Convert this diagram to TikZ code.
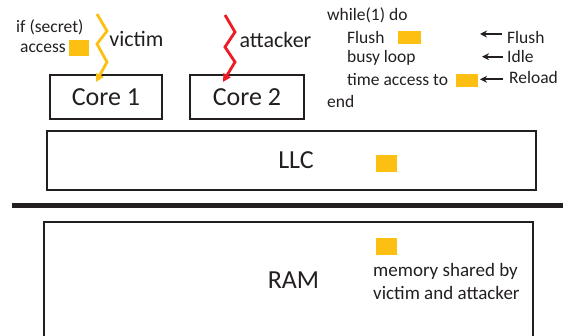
\documentclass[tikz,border=0pt]{standalone}
\usepackage{fontspec}
\setmainfont{Carlito}
\usetikzlibrary{arrows.meta,calc}
\definecolor{cacheyellow}{RGB}{252,191,18}
\definecolor{threadred}{RGB}{237,28,36}
\definecolor{ink}{RGB}{35,31,32}

\begin{document}
\begin{tikzpicture}[x=1pt,y=-1pt,
  unit/.style={draw=ink,line width=2pt,inner sep=0pt},
  blk/.style={fill=cacheyellow,inner sep=0pt},
  big/.style={font=\fontsize{26}{30}\selectfont,text=ink,inner sep=0pt},
  mid/.style={font=\fontsize{22}{25}\selectfont,text=ink,inner sep=0pt},
  small/.style={font=\fontsize{17.5}{21}\selectfont,text=ink,inner sep=0pt},
  thread/.style={line width=2.8pt,line join=miter,-{Triangle[length=8pt,width=8pt]}},
  note/.style={draw=ink,line width=2pt,-{Stealth[length=7pt,width=7pt]}}
]
\useasboundingbox (0,0) rectangle (563,336);

% cores
\node[unit,minimum width=112pt,minimum height=44pt,big] (core1) at (106,97) {Core 1};
\node[unit,minimum width=114pt,minimum height=44pt,big] (core2) at (247,97) {Core 2};

% last level cache
\node[unit,minimum width=489pt,minimum height=59pt] (llc) at (291,160.5) {};
\node[big] (llclbl) at (296,160) {LLC};
\node[blk,minimum width=21pt,minimum height=17pt] (llcline) at (386.5,163.5) {};

% separator between the chip and main memory
\draw[ink,line width=5pt] (12,206) coordinate (sepl) -- (563,206) coordinate (sepr);

% main memory (continues below)
\draw[ink,line width=2pt] (44,340) -- (44,222) -- (533,222) -- (533,340);
\node[big] (ramlbl) at (293.5,280) {RAM};
\node[blk,minimum width=21pt,minimum height=17pt] (ramline) at (386.5,246.5) {};
\node[anchor=west,align=left,inner sep=0pt,text=ink,font=\fontsize{19}{23}\selectfont] (shared) at (373,281.5)
  {memory shared by\\victim and attacker};

% victim thread
\node[small,anchor=west] (ifsec) at (16,27) {if (secret)};
\node[small,anchor=west] (acc) at (20,48.5) {access};
\node[blk,minimum width=20pt,minimum height=16pt] (accline) at (79,48) {};
\node[mid] (victim) at (136.5,39) {victim};
\coordinate (vtop) at (97,14);
\draw[thread,cacheyellow] (vtop) -- (107,31) -- (97,44) -- (107,62) -- ($(core1.north)+(-10,8)$);

% attacker thread
\node[mid] (attacker) at (275.5,40) {attacker};
\coordinate (atop) at (225,15);
\draw[thread,threadred] (atop) -- (235,32) -- (225,47) -- (235,62) -- ($(core2.north)+(-24,8)$);

% attacker loop
\node[small,anchor=west] (wh) at (327,15.5) {while(1) do};
\node[small,anchor=west] (fl) at (347,37) {Flush};
\node[blk,minimum width=23pt,minimum height=13pt] (flline) at (409.5,37.5) {};
\node[small,anchor=west] (busy) at (347,58) {busy loop};
\node[small,anchor=west] (tacc) at (347,80) {time access to};
\node[blk,minimum width=22pt,minimum height=13pt] (taccline) at (467,80.5) {};
\node[small,anchor=west] (en) at (327,101.5) {end};

% phase labels
\node[small,anchor=west] (pflush) at (507,37) {Flush};
\node[small,anchor=west] (pidle) at (507,56) {Idle};
\node[small,anchor=west] (preload) at (509,77.5) {Reload};
\coordinate (aflush) at (480,34);
\coordinate (aidle) at (482,56.7);
\coordinate (areload) at (480,79.3);
\draw[note] (pflush.west |- aflush) ++(-5,0) -- (aflush);
\draw[note] (pidle.west |- aidle) ++(-4,0) -- (aidle);
\draw[note] (preload.west |- areload) ++(-6,0) -- (areload);
\end{tikzpicture}
\end{document}
